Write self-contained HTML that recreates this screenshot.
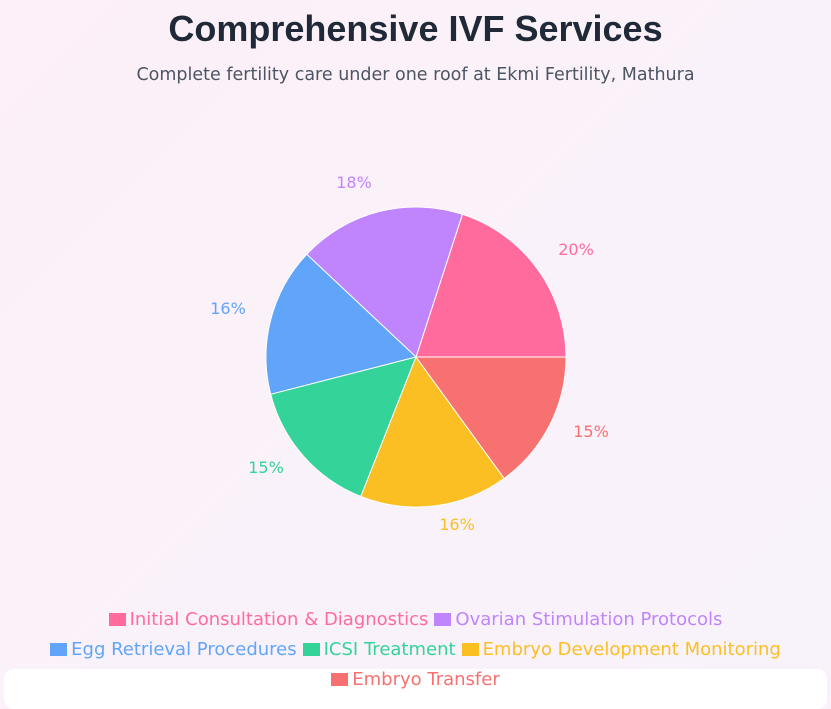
<!DOCTYPE html>
<html><head><style>
body{margin:0;width:831px;height:701px;overflow:hidden;background:linear-gradient(135deg,#fdf0f8,#f8f3fb);font-family:"Liberation Sans","DejaVu Sans",sans-serif;position:relative}
.t{position:absolute;left:0;width:831px;text-align:center}
.box{position:absolute;left:4px;top:669px;width:823px;height:40px;background:#fff;border-radius:10px}
.lg{position:absolute;left:0;width:831px;text-align:center;font-size:18px;white-space:nowrap;font-family:"DejaVu Sans",sans-serif}
.lg span{margin:0 3px}
.sq{display:inline-block;width:17px;height:13px;margin-right:4px;vertical-align:-1px}
</style></head><body>
<div class="t" style="top:8px;font-size:36px;font-weight:bold;color:#1f2937">Comprehensive IVF Services</div>
<div class="t" style="top:65px;font-size:17.5px;color:#4b5563;font-family:'DejaVu Sans',sans-serif">Complete fertility care under one roof at Ekmi Fertility, Mathura</div>
<div class="box"></div>
<svg width="831" height="701" style="position:absolute;left:0;top:0" font-family="DejaVu Sans, sans-serif" font-size="16">
<g stroke="#fff" stroke-width="1">
<path d="M416,357 L566,357 A150,150 0 0 0 462.4,214.3Z" fill="#ff6b9d"/>
<path d="M416,357 L462.4,214.3 A150,150 0 0 0 306.7,254.3Z" fill="#c084fc"/>
<path d="M416,357 L306.7,254.3 A150,150 0 0 0 270.7,394.3Z" fill="#60a5fa"/>
<path d="M416,357 L270.7,394.3 A150,150 0 0 0 360.8,496.5Z" fill="#34d399"/>
<path d="M416,357 L360.8,496.5 A150,150 0 0 0 504.2,478.4Z" fill="#fbbf24"/>
<path d="M416,357 L504.2,478.4 A150,150 0 0 0 566,357Z" fill="#f87171"/>
</g>
<g text-anchor="middle">
<text x="576" y="255" fill="#ff6b9d">20%</text>
<text x="354" y="188" fill="#c084fc">18%</text>
<text x="228" y="314" fill="#60a5fa">16%</text>
<text x="266" y="473" fill="#34d399">15%</text>
<text x="457" y="530" fill="#fbbf24">16%</text>
<text x="591" y="437" fill="#f87171">15%</text>
</g>
</svg>
<div class="lg" style="top:609px"><span style="color:#ff6b9d"><i class="sq" style="background:#ff6b9d"></i>Initial Consultation &amp; Diagnostics</span><span style="color:#c084fc"><i class="sq" style="background:#c084fc"></i>Ovarian Stimulation Protocols</span></div>
<div class="lg" style="top:639px"><span style="color:#60a5fa"><i class="sq" style="background:#60a5fa"></i>Egg Retrieval Procedures</span><span style="color:#34d399"><i class="sq" style="background:#34d399"></i>ICSI Treatment</span><span style="color:#fbbf24"><i class="sq" style="background:#fbbf24"></i>Embryo Development Monitoring</span></div>
<div class="lg" style="top:669px"><span style="color:#f87171"><i class="sq" style="background:#f87171"></i>Embryo Transfer</span></div>
</body></html>
